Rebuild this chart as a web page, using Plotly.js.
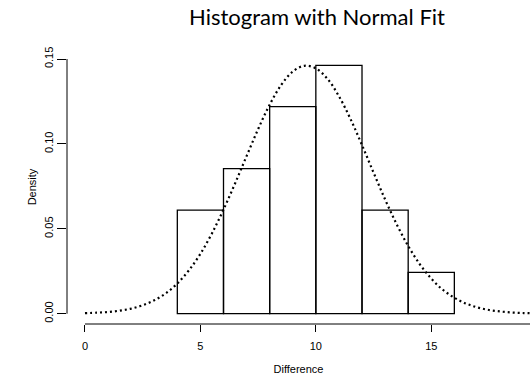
<!DOCTYPE html>
<html>
<head>
<meta charset="utf-8">
<script src="https://cdn.plot.ly/plotly-3.0.1.min.js"></script>
<style>
  html, body { margin: 0; padding: 0; background: #ffffff; }
  #chart { width: 530px; height: 381px; }
</style>
</head>
<body>
<div id="chart"></div>
<script>
// Histogram bins (density scale, bin width 2)
const binCenters = [5, 7, 9, 11, 13, 15];
const binDensity = [0.0610, 0.0854, 0.1220, 0.1463, 0.0610, 0.0244];
const binWidth = 2;

// Fitted normal density curve
const fitX = [0, 0.5, 1, 1.5, 2, 2.5, 3, 3.5, 4, 4.5, 5, 5.5, 6, 6.5, 7, 7.5, 8, 8.5, 9, 9.5,
              10, 10.5, 11, 11.5, 12, 12.5, 13, 13.5, 14, 14.5, 15, 15.5, 16, 16.5, 17, 17.5, 18, 18.5, 19, 19.5];
const fitY = [0.0003, 0.0006, 0.0010, 0.0018, 0.0030, 0.0050, 0.0079, 0.0120, 0.0178, 0.0255,
              0.0353, 0.0473, 0.0613, 0.0767, 0.0928, 0.1087, 0.1231, 0.1347, 0.1426, 0.1460,
              0.1445, 0.1384, 0.1281, 0.1147, 0.0993, 0.0831, 0.0673, 0.0527, 0.0399, 0.0292,
              0.0207, 0.0141, 0.0094, 0.0060, 0.0037, 0.0022, 0.0013, 0.0007, 0.0004, 0.0002];

// Tick labels
const xTicks = [0, 5, 10, 15];
const yTicks = [0, 0.05, 0.10, 0.15];
const yTickText = ["0.00", "0.05", "0.10", "0.15"];

const axisFont = { family: "Liberation Sans, Arial, sans-serif", size: 11, color: "#000" };

const traces = [
  {
    type: "bar",
    x: binCenters,
    y: binDensity,
    width: binCenters.map(() => binWidth),
    marker: { color: "rgba(255,255,255,0)", line: { color: "#000", width: 1.3 } },
    hoverinfo: "skip"
  },
  {
    type: "scatter",
    mode: "lines",
    x: fitX,
    y: fitY,
    line: { color: "#000", width: 2.2, dash: "2px,3px", shape: "spline", smoothing: 1 },
    hoverinfo: "skip"
  }
];

const layout = {
  width: 530,
  height: 381,
  margin: { l: 66.7, r: 0, t: 50, b: 56.7, pad: 0 },
  paper_bgcolor: "#fff",
  plot_bgcolor: "#fff",
  showlegend: false,
  bargap: 0,
  title: {
    text: "Histogram with Normal Fit",
    font: { family: "Lato, 'Open Sans', sans-serif", size: 22, color: "#000" },
    x: 0.54, xanchor: "center", xref: "paper",
    y: 0.955, yanchor: "middle", yref: "container"
  },
  xaxis: {
    range: [-0.779, 19.277],
    showgrid: false, zeroline: false, showline: false,
    tickmode: "array", tickvals: xTicks, ticktext: xTicks.map(String),
    ticks: "outside", ticklen: 7, tickwidth: 1, tickcolor: "#000",
    tickfont: axisFont,
    ticklabelstandoff: 5,
    title: { text: "Difference", font: axisFont, standoff: 14 }
  },
  yaxis: {
    range: [-0.00606, 0.1553],
    showgrid: false, zeroline: false, showline: false,
    tickmode: "array", tickvals: yTicks, ticktext: yTickText,
    ticks: "outside", ticklen: 9, tickwidth: 1, tickcolor: "#000",
    tickangle: -90,
    tickfont: axisFont,
    ticklabelstandoff: 0,
    title: { text: "Density", font: axisFont, standoff: 3 }
  },
  shapes: [
    // x axis line from first tick onward
    { type: "line", xref: "x", yref: "paper", x0: 0, x1: 20, y0: 0, y1: 0,
      line: { color: "#000", width: 1 } },
    // y axis line spanning the tick range
    { type: "line", xref: "paper", yref: "y", x0: 0, x1: 0, y0: 0, y1: 0.15,
      line: { color: "#000", width: 1 } }
  ]
};

Plotly.newPlot("chart", traces, layout, { staticPlot: true, displayModeBar: false });
</script>
</body>
</html>
